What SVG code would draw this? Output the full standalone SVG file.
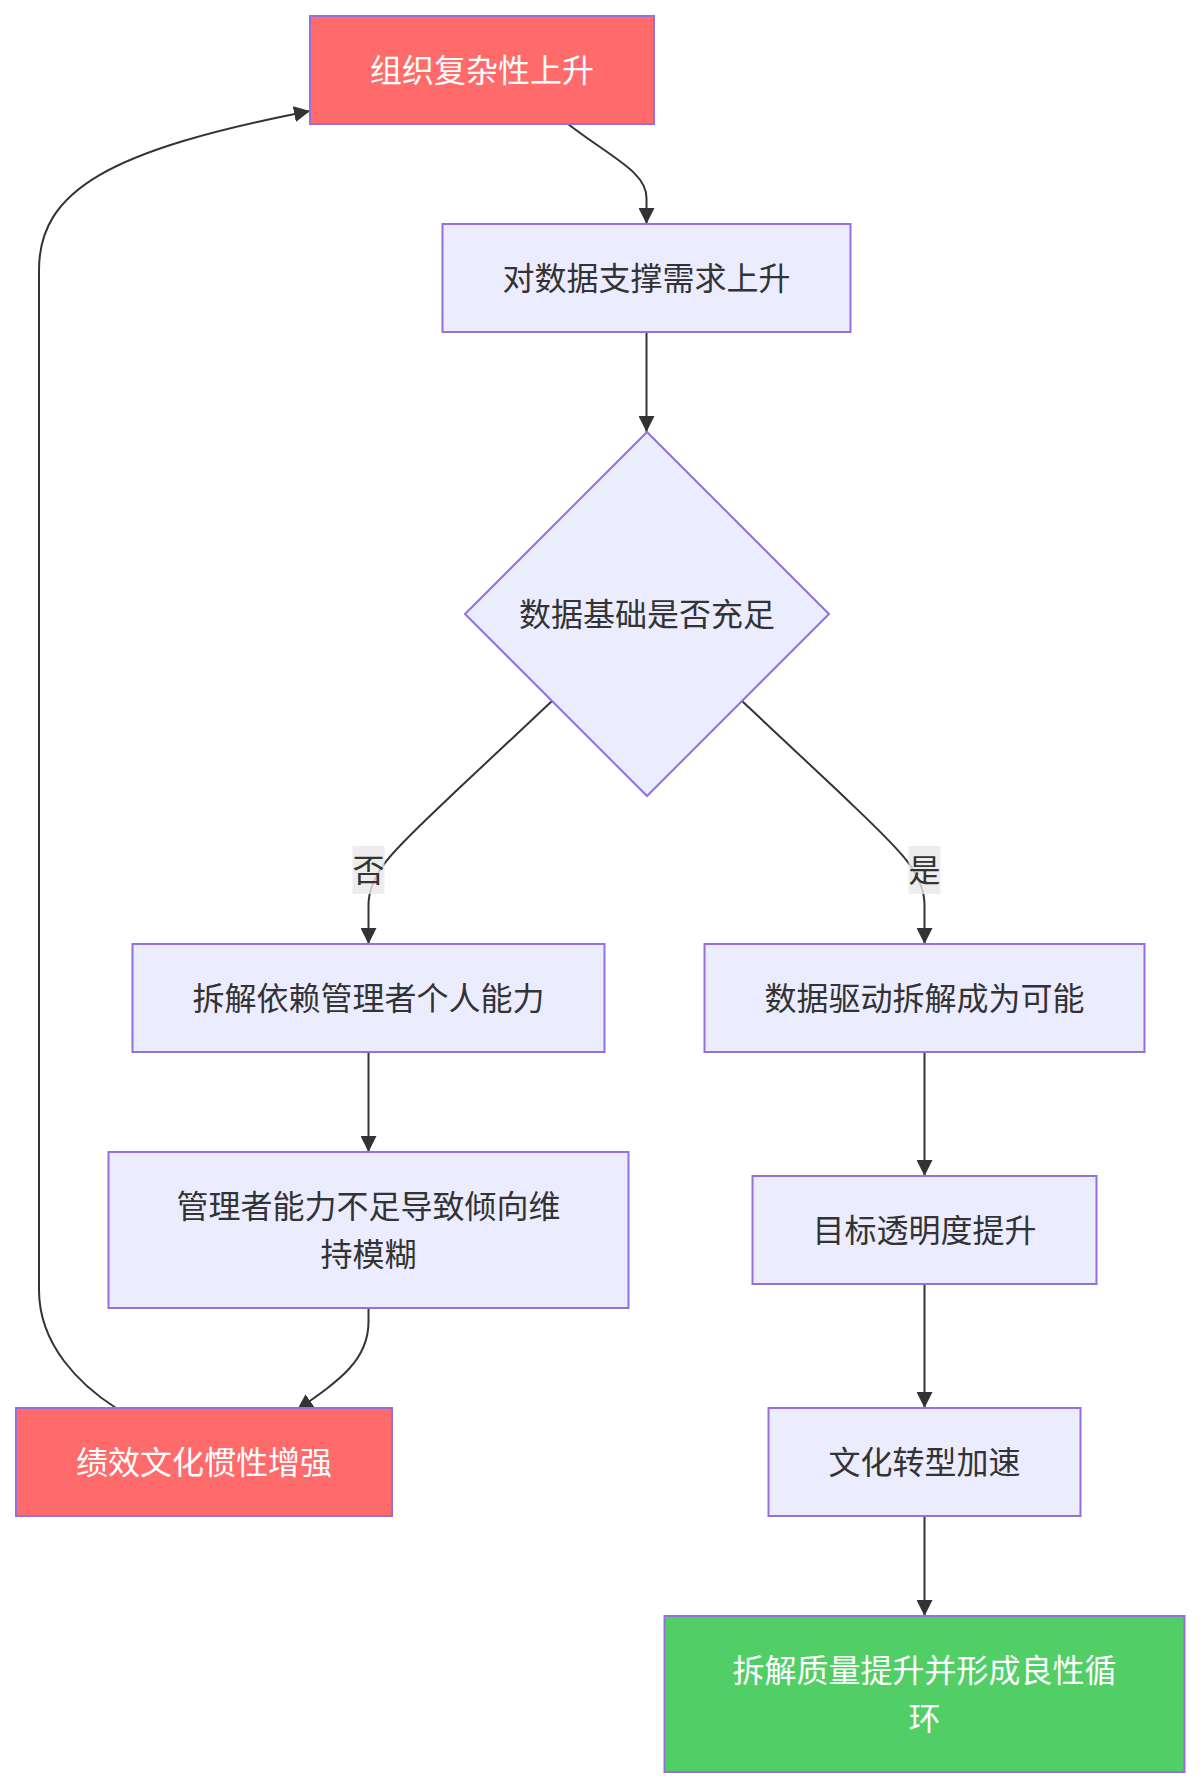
<svg xmlns="http://www.w3.org/2000/svg" width="1201" height="1788" viewBox="0 0 1201 1788">
<defs>
<marker id="arrow" viewBox="0 0 10 10" refX="10" refY="5" markerWidth="16" markerHeight="16" markerUnits="userSpaceOnUse" orient="auto">
<path d="M0,0 L10,5 L0,10 z" fill="#333333"/>
</marker>
<style>
.node rect, .node polygon { fill: #ECECFF; stroke: #9370DB; stroke-width: 2; }
.node.red rect { fill: #FF6B6B; }
.node.green rect { fill: #51CF66; }
text { font-family: "Noto Sans CJK SC", "Noto Sans", sans-serif; font-size: 32px; fill: #333333; text-anchor: middle; dominant-baseline: central; }
.red text, .green text { fill: #FFFFFF; }
.edge { fill: none; stroke: #333333; stroke-width: 2; marker-end: url(#arrow); }
.lbl rect { fill: #E8E8E8; opacity: 0.8; }
</style>
</defs>
<rect x="0" y="0" width="1201" height="1788" fill="#FFFFFF"/>
<g id="connectors">
<path class="edge" d="M568,124 C612,158 646.5,172 646.5,198 L646.5,224"/>
<path class="edge" d="M646.5,332 L646.5,432"/>
<path class="edge" d="M552,701 L455,792 C400,845 368.5,870 368.5,905 L368.5,944"/>
<path class="edge" d="M742,701 L839,792 C894,845 924.5,870 924.5,905 L924.5,944"/>
<path class="edge" d="M368.5,1052 L368.5,1152"/>
<path class="edge" d="M368.5,1308 L368.5,1322 C368.5,1360 340,1380 297,1410"/>
<path class="edge" d="M116,1408 C80,1385 39,1345 39,1290 L39,270 C39,190 110,150 310,111"/>
<path class="edge" d="M924.5,1052 L924.5,1176"/>
<path class="edge" d="M924.5,1284 L924.5,1408"/>
<path class="edge" d="M924.5,1516 L924.5,1616"/>
<g class="lbl" id="label-no"><rect x="352.5" y="846" width="32" height="48"/><text x="368.5" y="868">否</text></g>
<g class="lbl" id="label-yes"><rect x="908.5" y="846" width="32" height="48"/><text x="924.5" y="868">是</text></g>
</g>
<g id="n1" class="node red"><rect x="310" y="16" width="344" height="108"/><text x="482" y="68">组织复杂性上升</text></g>
<g id="n2" class="node"><rect x="442.5" y="224" width="408" height="108"/><text x="646.5" y="276">对数据支撑需求上升</text></g>
<g id="n3" class="node"><polygon points="647,432 829,614 647,796 465,614"/><text x="647" y="612">数据基础是否充足</text></g>
<g id="n4" class="node"><rect x="132.5" y="944" width="472" height="108"/><text x="368.5" y="996">拆解依赖管理者个人能力</text></g>
<g id="n5" class="node"><rect x="704.5" y="944" width="440" height="108"/><text x="924.5" y="996">数据驱动拆解成为可能</text></g>
<g id="n6" class="node"><rect x="108.5" y="1152" width="520" height="156"/><text x="368.5" y="1204">管理者能力不足导致倾向维</text><text x="368.5" y="1252">持模糊</text></g>
<g id="n7" class="node"><rect x="752.5" y="1176" width="344" height="108"/><text x="924.5" y="1228">目标透明度提升</text></g>
<g id="n8" class="node red"><rect x="16" y="1408" width="376" height="108"/><text x="204" y="1460">绩效文化惯性增强</text></g>
<g id="n9" class="node"><rect x="768.5" y="1408" width="312" height="108"/><text x="924.5" y="1460">文化转型加速</text></g>
<g id="n10" class="node green"><rect x="664.5" y="1616" width="520" height="156"/><text x="924.5" y="1668">拆解质量提升并形成良性循</text><text x="924.5" y="1716">环</text></g>
</svg>
